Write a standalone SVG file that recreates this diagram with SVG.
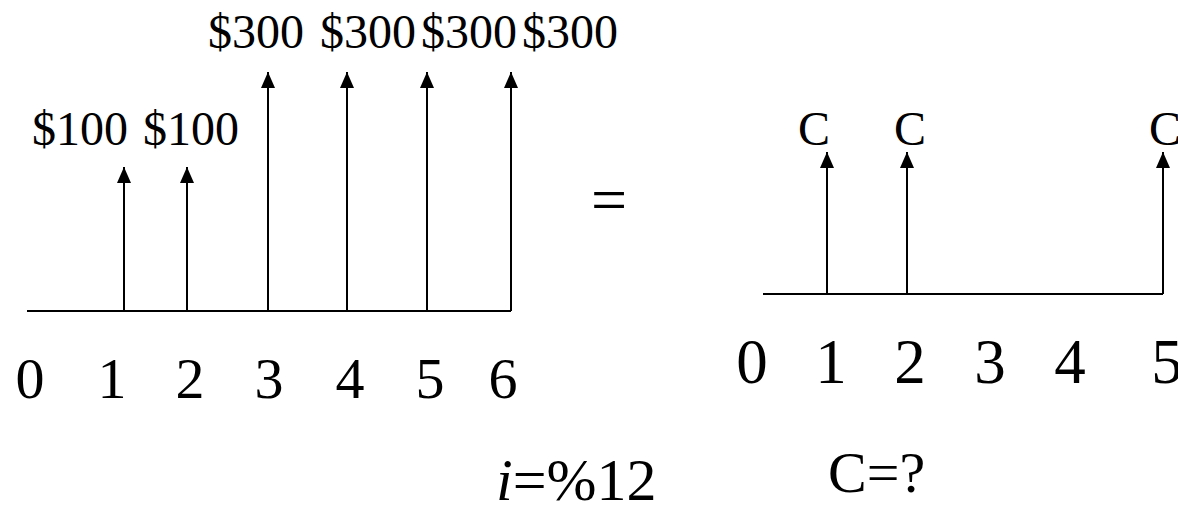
<svg xmlns="http://www.w3.org/2000/svg" width="1178" height="516" viewBox="0 0 1178 516">
<style>
  text { font-family: "Liberation Serif", "Times New Roman", serif; fill: #000; }
  .amt { font-size: 48px; }
  .dl { font-size: 58px; text-anchor: middle; }
  .dr { font-size: 63px; text-anchor: middle; }
  .ln { stroke: #000; stroke-width: 2; fill: none; }
</style>
<defs>
  <marker id="ah" markerUnits="userSpaceOnUse" markerWidth="16" markerHeight="14" refX="16" refY="7" orient="auto" viewBox="0 0 16 14">
    <path d="M0,0 L16,7 L0,14 Z" fill="#000"/>
  </marker>
</defs>
<g id="connectors">
  <line class="ln" x1="27" y1="311" x2="511" y2="311"/>
  <line class="ln" x1="124" y1="311" x2="124" y2="167" marker-end="url(#ah)"/>
  <line class="ln" x1="187" y1="311" x2="187" y2="167" marker-end="url(#ah)"/>
  <line class="ln" x1="268" y1="311" x2="268" y2="72" marker-end="url(#ah)"/>
  <line class="ln" x1="347" y1="311" x2="347" y2="72" marker-end="url(#ah)"/>
  <line class="ln" x1="427" y1="311" x2="427" y2="72" marker-end="url(#ah)"/>
  <line class="ln" x1="511" y1="311" x2="511" y2="72" marker-end="url(#ah)"/>
  <line class="ln" x1="763" y1="294" x2="1163" y2="294"/>
  <line class="ln" x1="827" y1="294" x2="827" y2="152" marker-end="url(#ah)"/>
  <line class="ln" x1="907" y1="294" x2="907" y2="152" marker-end="url(#ah)"/>
  <line class="ln" x1="1163" y1="294" x2="1163" y2="152" marker-end="url(#ah)"/>
</g>
<g id="left-amounts">
  <text class="amt" x="32" y="145">$100</text>
  <text class="amt" x="143" y="145">$100</text>
  <text class="amt" x="208" y="48">$300</text>
  <text class="amt" x="320" y="48">$300</text>
  <text class="amt" x="421" y="48">$300</text>
  <text class="amt" x="522" y="48">$300</text>
</g>
<g id="left-axis">
  <text class="dl" x="30" y="398">0</text>
  <text class="dl" x="112" y="398">1</text>
  <text class="dl" x="190" y="398">2</text>
  <text class="dl" x="269" y="398">3</text>
  <text class="dl" x="350" y="398">4</text>
  <text class="dl" x="430" y="398">5</text>
  <text class="dl" x="503" y="398">6</text>
</g>
<g id="equals">
  <text x="609" y="221" style="font-size:64px;text-anchor:middle">=</text>
</g>
<g id="right-amounts">
  <text class="amt" x="798" y="145">C</text>
  <text class="amt" x="894" y="145">C</text>
  <text class="amt" x="1149" y="145">C</text>
</g>
<g id="right-axis">
  <text class="dr" x="752" y="383">0</text>
  <text class="dr" x="831" y="383">1</text>
  <text class="dr" x="910" y="383">2</text>
  <text class="dr" x="990" y="383">3</text>
  <text class="dr" x="1070" y="383">4</text>
  <text class="dr" x="1167" y="383">5</text>
</g>
<g id="rate">
  <text x="496" y="500" style="font-size:60px"><tspan font-style="italic">i</tspan>=%12</text>
</g>
<g id="unknown">
  <text x="828" y="492" style="font-size:58px">C=?</text>
</g>
</svg>
